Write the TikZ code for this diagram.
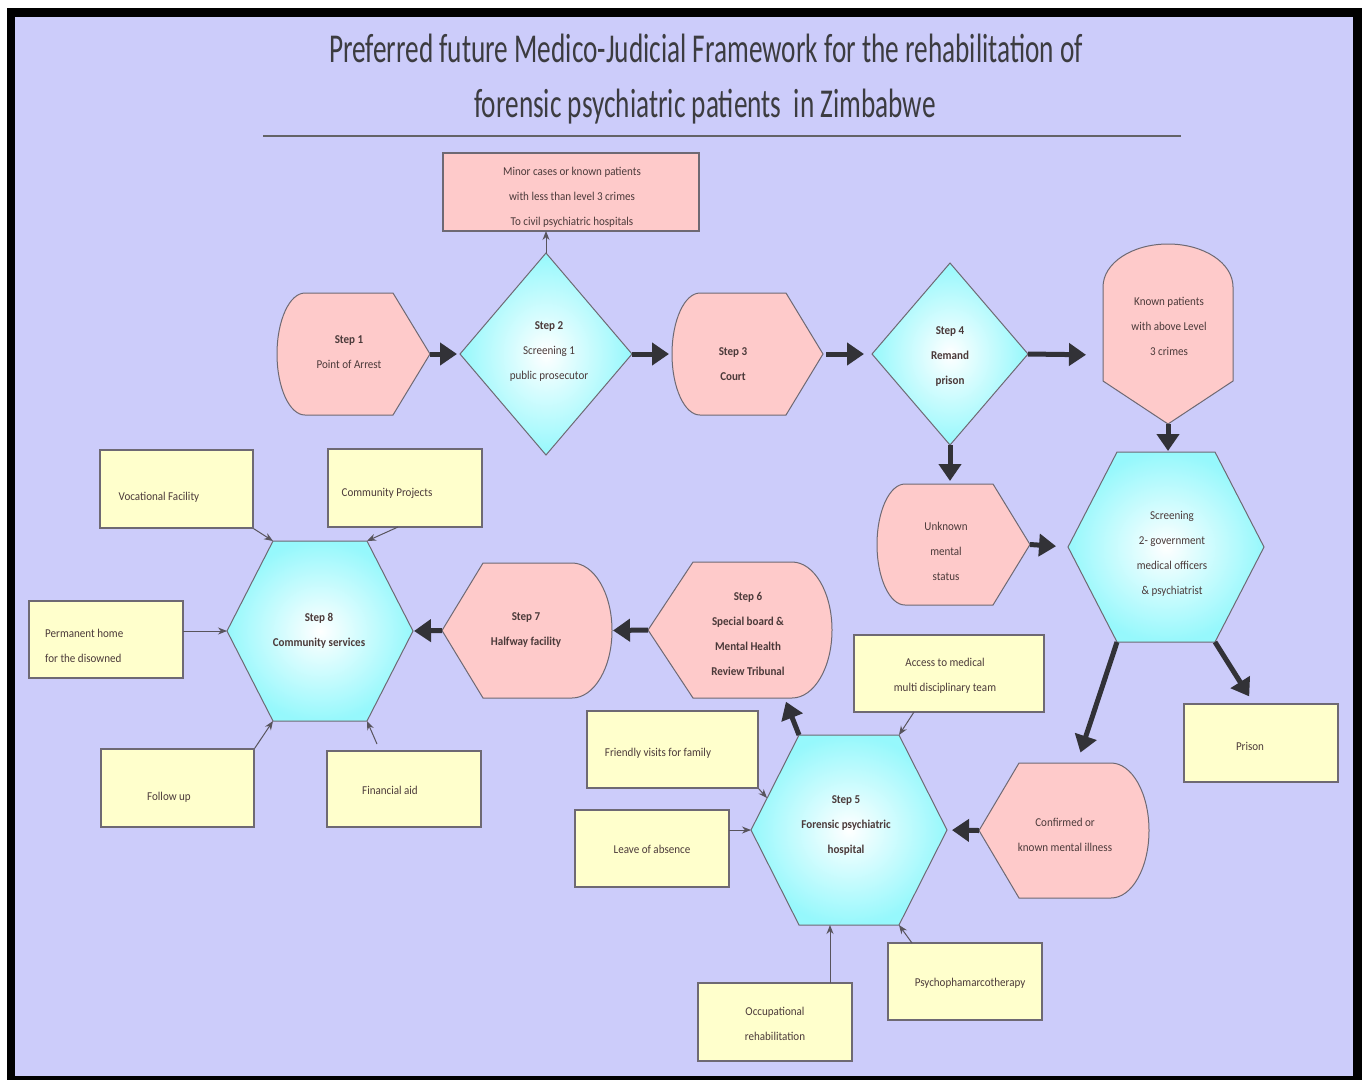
\documentclass[tikz,border=0pt]{standalone}
\usepackage{fontspec}
\setmainfont{Carlito}
\newfontfamily\nodefont[FakeStretch=0.92]{Carlito}
\newfontfamily\titlefont[FakeStretch=0.665]{Carlito}
\usetikzlibrary{arrows.meta}
\definecolor{bgc}{RGB}{204,204,250}
\definecolor{pinkc}{RGB}{254,202,202}
\definecolor{cyanc}{RGB}{150,248,252}
\definecolor{yelc}{RGB}{255,255,204}
\definecolor{edgec}{RGB}{110,105,115}
\definecolor{txtc}{RGB}{75,58,58}
\definecolor{arrc}{RGB}{50,50,55}
\definecolor{titc}{RGB}{60,60,64}
\tikzset{
  pinkshape/.style={fill=pinkc, draw=edgec, line width=1pt},
  cyanshape/.style={draw=edgec, line width=1pt, inner color=white, outer color=cyanc},
  ybox/.style={draw=edgec, fill=yelc, line width=1.2pt, inner sep=0pt},
  pbox/.style={draw=edgec, fill=pinkc, line width=1.2pt, inner sep=0pt},
  txt/.style={font=\nodefont\fontsize{12}{25}\selectfont, text=txtc, align=center, inner sep=0pt},
  titletxt/.style={font=\titlefont\fontsize{41}{43}\selectfont, text=titc, inner sep=0pt},
  bigarrow/.style={draw=arrc, line width=5pt, -{Triangle[length=17pt,width=22pt]}},
  thinarrow/.style={draw=edgec!80!black, line width=1pt, -{Stealth[length=9pt,width=7pt]}}
}
% display shape, point to the right: L, rx, F, P, T, B
\newcommand\dispR[6]{%
 \path[pinkshape] ({#1+#2},#5) -- (#3,#5) -- (#4,{(#5+#6)/2}) -- (#3,#6) -- ({#1+#2},#6)
 .. controls ({#1+0.4477*#2},#6) and (#1,{(#5+#6)/2+0.5523*(#6-#5)/2}) .. (#1,{(#5+#6)/2})
 .. controls (#1,{(#5+#6)/2-0.5523*(#6-#5)/2}) and ({#1+0.4477*#2},#5) .. ({#1+#2},#5) -- cycle;}
% display shape, point to the left: P, F, R, rx, T, B
\newcommand\dispL[6]{%
 \path[pinkshape] (#1,{(#5+#6)/2}) -- (#2,#5) -- ({#3-#4},#5)
 .. controls ({#3-0.4477*#4},#5) and (#3,{(#5+#6)/2-0.5523*(#6-#5)/2}) .. (#3,{(#5+#6)/2})
 .. controls (#3,{(#5+#6)/2+0.5523*(#6-#5)/2}) and ({#3-0.4477*#4},#6) .. ({#3-#4},#6) -- (#2,#6) -- cycle;}
% hexagon: name, cx, cy, half width, half top width, half height
\newcommand\hexa[6]{%
 \path[cyanshape] ({#2-#4},#3) -- ({#2-#5},{#3-#6}) -- ({#2+#5},{#3-#6}) -- ({#2+#4},#3)
   -- ({#2+#5},{#3+#6}) -- ({#2-#5},{#3+#6}) -- cycle;
 \coordinate (#1-w) at ({#2-#4},#3);
 \coordinate (#1-e) at ({#2+#4},#3);
 \coordinate (#1-nw) at ({#2-#5},{#3-#6});
 \coordinate (#1-ne) at ({#2+#5},{#3-#6});
 \coordinate (#1-sw) at ({#2-#5},{#3+#6});
 \coordinate (#1-se) at ({#2+#5},{#3+#6});}
% diamond: name, cx, cy, half width, half height
\newcommand\diam[5]{%
 \path[cyanshape] ({#2-#4},#3) -- (#2,{#3-#5}) -- ({#2+#4},#3) -- (#2,{#3+#5}) -- cycle;
 \coordinate (#1-w) at ({#2-#4},#3);
 \coordinate (#1-e) at ({#2+#4},#3);
 \coordinate (#1-n) at (#2,{#3-#5});
 \coordinate (#1-s) at (#2,{#3+#5});}
\begin{document}
\begin{tikzpicture}[x=1pt,y=-1pt]
\useasboundingbox (0,0) rectangle (1367,1080);
\fill[white] (0,0) rectangle (1367,1080);
\fill[black] (7,8) rectangle (1362,1080);
\fill[bgc] (15,17) rectangle (1353,1076);

% title
\node[titletxt] (t1) at (706,48) {Preferred future Medico-Judicial Framework for the rehabilitation of};
\node[titletxt] (t2) at (705,107) {forensic psychiatric patients\ \ in Zimbabwe};
\draw[draw=titc!80, line width=1.5pt] (263,136) -- (1181,136);

% pink display shapes
\dispR{277}{28}{393}{430}{293}{415}
\coordinate (s1-p) at (430,354);
\dispR{672}{28}{786}{823}{293}{415}
\coordinate (s3-p) at (823,354);
\coordinate (s3-w) at (672,354);
\dispR{877}{28}{993}{1030}{484}{605}
\coordinate (un-p) at (1030,544.5);
\coordinate (un-n) at (950,484);
\dispL{442}{483}{612}{40}{563}{698}
\coordinate (s7-p) at (442,630.5);
\coordinate (s7-e) at (612,630.5);
\dispL{648}{693}{832}{40}{562}{698}
\coordinate (s6-p) at (648,630);
\coordinate (s6-in) at (784.5,698);
\dispL{979}{1019}{1149}{38}{763}{898}
\coordinate (cf-p) at (979,830.5);
\coordinate (cf-in) at (1077,763);

% known patients shape
\path[pinkshape] (1103,381) -- (1103,287) .. controls (1103,263) and (1132,244) .. (1168,244)
  .. controls (1204,244) and (1233,263) .. (1233,287) -- (1233,381) -- (1168,424) -- cycle;
\coordinate (kn-s) at (1168,424);
\coordinate (kn-w) at (1103,355);

% minor cases box
\node[pbox, minimum width=256pt, minimum height=78pt] (mc) at (571,192) {};

% diamonds
\diam{s2}{546}{354}{86}{101}
\diam{s4}{950}{354}{78}{91}

% hexagons
\hexa{s8}{320}{631}{93}{47}{90}
\hexa{sc}{1166}{547}{98}{49}{95}
\hexa{s5}{849}{830}{98}{50}{95}

% yellow boxes
\node[ybox, minimum width=153pt, minimum height=78pt] (vf) at (176.5,489) {};
\node[ybox, minimum width=154pt, minimum height=78pt] (cp) at (405,488) {};
\node[ybox, minimum width=154pt, minimum height=77pt] (ph) at (106,639.5) {};
\node[ybox, minimum width=153pt, minimum height=78pt] (fu) at (177.5,788) {};
\node[ybox, minimum width=154pt, minimum height=76pt] (fa) at (404,789) {};
\node[ybox, minimum width=171pt, minimum height=77pt] (fv) at (672.5,749.5) {};
\node[ybox, minimum width=154pt, minimum height=77pt] (la) at (652,848.5) {};
\node[ybox, minimum width=190pt, minimum height=77pt] (am) at (949,673.5) {};
\node[ybox, minimum width=154pt, minimum height=78pt] (oc) at (775,1022) {};
\node[ybox, minimum width=154pt, minimum height=77pt] (ps) at (965,981.5) {};
\node[ybox, minimum width=154pt, minimum height=78pt] (pr) at (1261,743) {};

% texts in shapes
\node[txt] (s1t) at (349,352) {{\bfseries Step 1}\\Point of Arrest};
\node[txt] (s2t) at (549,352) {{\bfseries Step 2}\\Screening 1\\public prosecutor};
\node[txt, font=\nodefont\bfseries\fontsize{12}{25}\selectfont] (s3t) at (733,364) {Step 3\\Court};
\node[txt, font=\nodefont\bfseries\fontsize{12}{25}\selectfont] (s4t) at (950,356) {Step 4\\Remand\\prison};
\node[txt] (knt) at (1169,326) {Known patients\\with above Level\\3 crimes};
\node[txt] (mct) at (572,197) {Minor cases or known patients\\with less than level 3 crimes\\To civil psychiatric hospitals};
\node[txt] (unt) at (946,551) {Unknown\\mental\\status};
\node[txt] (sct) at (1172,553.5) {Screening\\2- government\\medical officers\\\&\ psychiatrist};
\node[txt, font=\nodefont\bfseries\fontsize{12}{25}\selectfont] (s8t) at (319,630.5) {Step 8\\Community services};
\node[txt, font=\nodefont\bfseries\fontsize{12}{25}\selectfont] (s7t) at (526,629.5) {Step 7\\Halfway facility};
\node[txt, font=\nodefont\bfseries\fontsize{12}{25}\selectfont] (s6t) at (748,633.5) {Step 6\\Special board \&\\Mental Health\\Review Tribunal};
\node[txt, font=\nodefont\bfseries\fontsize{12}{25}\selectfont] (s5t) at (846,825) {Step 5\\Forensic psychiatric\\hospital};
\node[txt] (cft) at (1065,834.5) {Confirmed or\\known mental illness};

% texts in boxes
\node[txt] (vft) at (159,497) {Vocational Facility};
\node[txt] (cpt) at (387,493) {Community Projects};
\node[txt, align=left, anchor=west] (pht) at (45,645.5) {Permanent home\\for the disowned};
\node[txt] (fut) at (169,797) {Follow up};
\node[txt] (fat) at (390,790) {Financial aid};
\node[txt] (fvt) at (658,753) {Friendly visits for family};
\node[txt] (lat) at (652,849) {Leave of absence};
\node[txt] (amt) at (945,676) {Access to medical\\multi disciplinary team};
\node[txt] (oct) at (775,1023.5) {Occupational\\rehabilitation};
\node[txt] (pst) at (970,983) {Psychophamarcotherapy};
\node[txt] (prt) at (1250,746) {Prison};

% thick connectors
\draw[bigarrow, shorten >=3pt] (s1-p) -- (s2-w);
\draw[bigarrow, shorten >=3pt] (s2-e) -- (s3-w);
\draw[bigarrow, shorten <=3pt, shorten >=8pt] (s3-p) -- (s4-w);
\draw[bigarrow, shorten >=17pt] (s4-e) -- (kn-w);
\draw[bigarrow, shorten >=3pt] (s4-s) -- (un-n);
\draw[bigarrow, shorten >=1pt] (kn-s) -- (sc-nw -| kn-s);
\draw[bigarrow, shorten >=12pt] (un-p) -- (sc-w);
\draw[bigarrow, shorten >=11pt] (sc-sw) -- (cf-in);
\coordinate (pr-in) at (1254,704);
\draw[bigarrow, shorten >=9pt] (sc-se) -- (pr-in);
\draw[bigarrow, shorten >=5pt] (cf-p) -- (s5-e);
\draw[bigarrow, shorten >=4pt] (s5-nw) -- (s6-in);
\draw[bigarrow, shorten >=1pt] (s6-p) -- (s7-e);
\draw[bigarrow, shorten >=1pt] (s7-p) -- (s8-e);

% thin connectors
\coordinate (mc-in) at (546,231);
\draw[thinarrow] (s2-n) -- (mc-in);
\draw[thinarrow] (vf.south east) -- (s8-nw);
\coordinate (cp-a) at (398,527);
\draw[thinarrow] (cp-a) -- (s8-ne);
\coordinate (ph-a) at (183,631);
\draw[thinarrow] (ph-a) -- (s8-w);
\draw[thinarrow] (fu.north east) -- (s8-sw);
\coordinate (fa-a) at (377,744);
\draw[thinarrow] (fa-a) -- (s8-se);
\coordinate (s5-fv) at (767,798);
\draw[thinarrow] (fv.south east) -- (s5-fv);
\coordinate (la-a) at (729,830);
\draw[thinarrow] (la-a) -- (s5-w);
\coordinate (am-a) at (914,712);
\draw[thinarrow] (am-a) -- (s5-ne);
\coordinate (oc-a) at (830,983);
\coordinate (s5-b) at (830,925);
\draw[thinarrow] (oc-a) -- (s5-b);
\coordinate (ps-a) at (912,943);
\draw[thinarrow] (ps-a) -- (s5-se);
\end{tikzpicture}
\end{document}
